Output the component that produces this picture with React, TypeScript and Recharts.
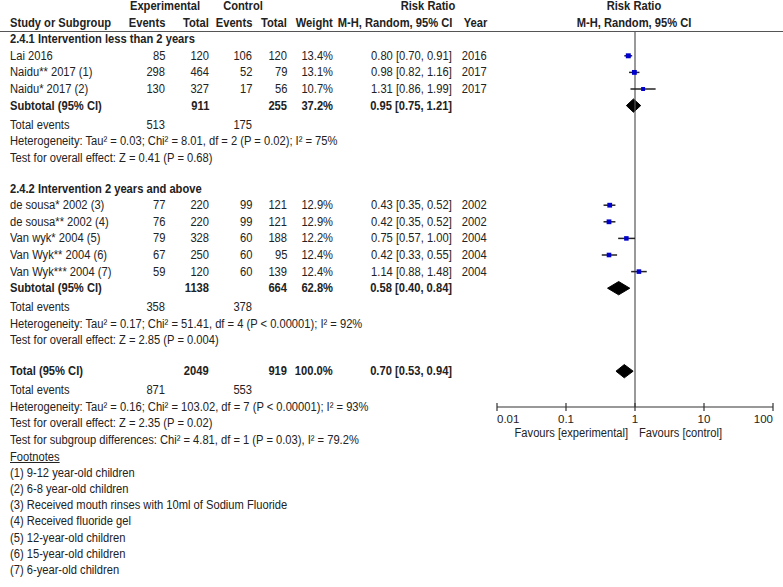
import React from 'react'
import { ComposedChart, XAxis, YAxis, Scatter, ErrorBar, Area, ReferenceLine } from 'recharts'

// study-level data (rows in the table)
const studyNames = [
  'Lai 2016', 'Naidu** 2017 (1)', 'Naidu* 2017 (2)',
  'de sousa* 2002 (3)', 'de sousa** 2002 (4)', 'Van wyk* 2004 (5)', 'Van Wyk** 2004 (6)', 'Van Wyk*** 2004 (7)',
]
const studyGroup = [0, 0, 0, 1, 1, 1, 1, 1]
const expEvents = [85, 298, 130, 77, 76, 79, 67, 59]
const expTotals = [120, 464, 327, 220, 220, 328, 250, 120]
const ctrlEvents = [106, 52, 17, 99, 99, 60, 60, 60]
const ctrlTotals = [120, 79, 56, 121, 121, 188, 95, 139]
const weights = [13.4, 13.1, 10.7, 12.9, 12.9, 12.2, 12.4, 12.4]
const riskRatios = [0.8, 0.98, 1.31, 0.43, 0.42, 0.75, 0.42, 1.14]
const ciLow = [0.7, 0.82, 0.86, 0.35, 0.35, 0.57, 0.33, 0.88]
const ciHigh = [0.91, 1.16, 1.99, 0.52, 0.52, 1.0, 0.55, 1.48]
const years = [2016, 2017, 2017, 2002, 2002, 2004, 2004, 2004]

// pooled estimates: subgroup 1, subgroup 2, overall
const groupTitles = ['2.4.1 Intervention less than 2 years', '2.4.2 Intervention 2 years and above']
const pooledLabels = ['Subtotal (95% CI)', 'Subtotal (95% CI)', 'Total (95% CI)']
const pooledExpTotals = [911, 1138, 2049]
const pooledCtrlTotals = [255, 664, 919]
const pooledWeights = [37.2, 62.8, 100.0]
const pooledRR = [0.95, 0.58, 0.7]
const pooledLow = [0.75, 0.4, 0.53]
const pooledHigh = [1.21, 0.84, 0.94]
const pooledExpEvents = [513, 358, 871]
const pooledCtrlEvents = [175, 378, 553]
const heterogeneityTexts = [
  'Heterogeneity: Tau² = 0.03; Chi² = 8.01, df = 2 (P = 0.02); I² = 75%',
  'Heterogeneity: Tau² = 0.17; Chi² = 51.41, df = 4 (P < 0.00001); I² = 92%',
  'Heterogeneity: Tau² = 0.16; Chi² = 103.02, df = 7 (P < 0.00001); I² = 93%',
]
const overallEffectTexts = [
  'Test for overall effect: Z = 0.41 (P = 0.68)',
  'Test for overall effect: Z = 2.85 (P = 0.004)',
  'Test for overall effect: Z = 2.35 (P = 0.02)',
]
const subgroupText = 'Test for subgroup differences: Chi² = 4.81, df = 1 (P = 0.03), I² = 79.2%'
const footnotes = [
  '(1) 9-12 year-old children',
  '(2) 6-8 year-old children',
  '(3) Received mouth rinses with 10ml of Sodium Fluoride',
  '(4) Received fluoride gel',
  '(5) 12-year-old children',
  '(6) 15-year-old children',
  '(7) 6-year-old children',
]
const axisTicks = [0.01, 0.1, 1, 10, 100]

// layout (line index -> pixel)
const W = 783
const H = 587
const PITCH = 16.6
const OFFSET = 6
const ly = (line: number) => OFFSET + line * PITCH
const HEADER_LINE_Y = 31
const AXIS_Y = 407
const groupTitleLines = [2, 11]
const pooledLines = [6, 17, 22]
const COL = { name: 10, expEv: 165, expTot: 209, ctlEv: 252, ctlTot: 287, weight: 333, rr: 452, year: 487 }
const FOREST_CENTER = 634
const SQUEEZE = 0.93 // reference font is a narrow sans

const studyLine = (i: number) => {
  const g = studyGroup[i]
  const idx = studyGroup.slice(0, i).filter((v) => v === g).length
  return groupTitleLines[g] + 1 + idx
}

const fmtCI = (rr: number, lo: number, hi: number) => `${rr.toFixed(2)} [${lo.toFixed(2)}, ${hi.toFixed(2)}]`

const studyPoints = studyNames.map((_, i) => ({
  x: riskRatios[i],
  y: studyLine(i),
  err: [riskRatios[i] - ciLow[i], ciHigh[i] - riskRatios[i]],
  w: weights[i],
}))

const DIAMOND_HALF = 0.4
const diamonds = pooledRR.map((rr, k) => [
  { x: pooledLow[k], band: [pooledLines[k], pooledLines[k]] },
  { x: rr, band: [pooledLines[k] - DIAMOND_HALF, pooledLines[k] + DIAMOND_HALF] },
  { x: pooledHigh[k], band: [pooledLines[k], pooledLines[k]] },
])

type TProps = { x: number; y: number; align?: 'left' | 'right' | 'center'; bold?: boolean; underline?: boolean; children: React.ReactNode }
function T({ x, y, align = 'left', bold, underline, children }: TProps) {
  const pos: React.CSSProperties =
    align === 'right'
      ? { right: W - x, transformOrigin: '100% 50%', transform: `scaleX(${SQUEEZE})` }
      : align === 'center'
        ? { left: x, transformOrigin: '50% 50%', transform: `translateX(-50%) scaleX(${SQUEEZE})` }
        : { left: x, transformOrigin: '0 50%', transform: `scaleX(${SQUEEZE})` }
  return (
    <div
      style={{
        position: 'absolute', top: y - 7, lineHeight: '14px', whiteSpace: 'nowrap',
        fontWeight: bold ? 'bold' : 'normal', textDecoration: underline ? 'underline' : 'none', ...pos,
      }}
    >
      {children}
    </div>
  )
}

const Square = (props: any) => {
  const { cx, cy, payload } = props
  const s = payload.w * 0.37
  return <rect x={cx - s / 2} y={cy - s / 2} width={s} height={s} fill="#0000cc" />
}

const AxisTick = (props: any) => {
  const { x, y, payload, index } = props
  const anchor = index === 0 ? 'start' : index === axisTicks.length - 1 ? 'end' : 'middle'
  return (
    <g>
      <line x1={x} x2={x} y1={y - 4} y2={y + 4} stroke="#333" strokeWidth={1.2} />
      <text x={x} y={y + 16} textAnchor={anchor} fontSize={11.5} fill="#222" fontFamily='"Liberation Sans", Arial, sans-serif'>
        {String(payload.value)}
      </text>
    </g>
  )
}

export default function App() {
  const yDomain = [(HEADER_LINE_Y - OFFSET) / PITCH, (AXIS_Y - OFFSET) / PITCH]
  const summaryStart = (k: number) => pooledLines[k] + 1.15

  return (
    <div
      style={{
        position: 'absolute', left: 0, top: 0, width: W, height: H, background: '#fff', overflow: 'hidden',
        fontFamily: '"Liberation Sans", Arial, sans-serif', fontSize: 12, color: '#222',
      }}
    >
      <div style={{ position: 'absolute', left: 0, top: 0 }}>
        <ComposedChart width={W} height={H} margin={{ top: HEADER_LINE_Y, right: W - 773, bottom: H - AXIS_Y - 30, left: 497 }}>
          <XAxis
            type="number"
            dataKey="x"
            scale="log"
            domain={[0.01, 100]}
            ticks={axisTicks}
            interval={0}
            allowDataOverflow
            height={30}
            tickSize={0}
            tickMargin={0}
            tickLine={false}
            axisLine={{ stroke: '#333', strokeWidth: 1.2 }}
            tick={<AxisTick />}
          />
          <YAxis type="number" dataKey="y" domain={yDomain} reversed hide allowDataOverflow width={0} />
          <ReferenceLine x={1} stroke="#555" strokeWidth={1.2} />
          {diamonds.map((d, k) => (
            <Area
              key={k}
              data={d}
              dataKey="band"
              type="linear"
              fill="#000"
              fillOpacity={1}
              stroke="#000"
              strokeWidth={1}
              dot={false}
              activeDot={false}
              isAnimationActive={false}
            />
          ))}
          <Scatter data={studyPoints} shape={<Square />} isAnimationActive={false}>
            <ErrorBar dataKey="err" direction="x" width={0} stroke="#222" strokeWidth={1.5} />
          </Scatter>
        </ComposedChart>
      </div>

      <div style={{ position: 'absolute', left: 0, top: HEADER_LINE_Y, width: W, height: 1, background: '#555' }} />

      {/* headers */}
      <T x={165} y={ly(0)} align="center" bold>Experimental</T>
      <T x={243} y={ly(0)} align="center" bold>Control</T>
      <T x={428} y={ly(0)} align="center" bold>Risk Ratio</T>
      <T x={FOREST_CENTER} y={ly(0)} align="center" bold>Risk Ratio</T>
      <T x={COL.name} y={ly(1)} bold>Study or Subgroup</T>
      <T x={COL.expEv} y={ly(1)} align="right" bold>Events</T>
      <T x={COL.expTot} y={ly(1)} align="right" bold>Total</T>
      <T x={COL.ctlEv} y={ly(1)} align="right" bold>Events</T>
      <T x={COL.ctlTot} y={ly(1)} align="right" bold>Total</T>
      <T x={COL.weight} y={ly(1)} align="right" bold>Weight</T>
      <T x={COL.rr} y={ly(1)} align="right" bold>M-H, Random, 95% CI</T>
      <T x={COL.year} y={ly(1)} align="right" bold>Year</T>
      <T x={FOREST_CENTER} y={ly(1)} align="center" bold>M-H, Random, 95% CI</T>

      {groupTitles.map((t, g) => (
        <T key={t} x={COL.name} y={ly(groupTitleLines[g])} bold>{t}</T>
      ))}

      {studyNames.map((n, i) => {
        const y = ly(studyLine(i))
        return (
          <React.Fragment key={n}>
            <T x={COL.name} y={y}>{n}</T>
            <T x={COL.expEv} y={y} align="right">{expEvents[i]}</T>
            <T x={COL.expTot} y={y} align="right">{expTotals[i]}</T>
            <T x={COL.ctlEv} y={y} align="right">{ctrlEvents[i]}</T>
            <T x={COL.ctlTot} y={y} align="right">{ctrlTotals[i]}</T>
            <T x={COL.weight} y={y} align="right">{weights[i].toFixed(1)}%</T>
            <T x={COL.rr} y={y} align="right">{fmtCI(riskRatios[i], ciLow[i], ciHigh[i])}</T>
            <T x={COL.year} y={y} align="right">{years[i]}</T>
          </React.Fragment>
        )
      })}

      {pooledLabels.map((lab, k) => {
        const y = ly(pooledLines[k])
        const s = summaryStart(k)
        return (
          <React.Fragment key={k}>
            <T x={COL.name} y={y} bold>{lab}</T>
            <T x={COL.expTot} y={y} align="right" bold>{pooledExpTotals[k]}</T>
            <T x={COL.ctlTot} y={y} align="right" bold>{pooledCtrlTotals[k]}</T>
            <T x={COL.weight} y={y} align="right" bold>{pooledWeights[k].toFixed(1)}%</T>
            <T x={COL.rr} y={y} align="right" bold>{fmtCI(pooledRR[k], pooledLow[k], pooledHigh[k])}</T>
            <T x={COL.name} y={ly(s)}>Total events</T>
            <T x={COL.expEv} y={ly(s)} align="right">{pooledExpEvents[k]}</T>
            <T x={COL.ctlEv} y={ly(s)} align="right">{pooledCtrlEvents[k]}</T>
            <T x={COL.name} y={ly(s + 1)}>{heterogeneityTexts[k]}</T>
            <T x={COL.name} y={ly(s + 2)}>{overallEffectTexts[k]}</T>
          </React.Fragment>
        )
      })}
      <T x={COL.name} y={ly(summaryStart(2) + 3)}>{subgroupText}</T>

      <T x={COL.name} y={ly(summaryStart(2) + 4)} underline>Footnotes</T>
      {footnotes.map((f, k) => (
        <T key={f} x={COL.name} y={ly(summaryStart(2) + 4 + (k + 1) * 0.975)}>{f}</T>
      ))}

      <T x={628} y={433} align="right">Favours [experimental]</T>
      <T x={639} y={433}>Favours [control]</T>
    </div>
  )
}
